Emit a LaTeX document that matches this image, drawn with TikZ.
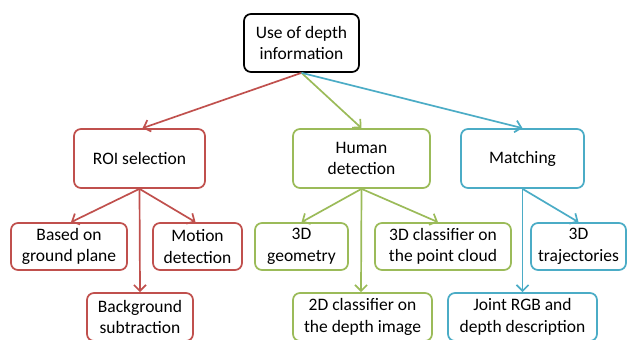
\documentclass[tikz,border=0pt]{standalone}
\usepackage{fontspec}
\setmainfont{Carlito}
\usetikzlibrary{arrows.meta}
\definecolor{cred}{HTML}{C0504D}
\definecolor{cgreen}{HTML}{9BBB59}
\definecolor{cblue}{HTML}{4BACC6}
\tikzset{
  box/.style={draw, line width=1.7pt, rounded corners=7pt, fill=white, inner sep=0pt, align=center,
    font=\fontsize{17.5}{21.5}\selectfont},
  arr/.style={line width=1.7pt, -{Straight Barb[length=6pt,width=12pt,line width=1.7pt]}},
}
\begin{document}
\begin{tikzpicture}[x=1pt,y=-1pt]
\useasboundingbox (0,0) rectangle (627,340);
\node[box, draw=black, minimum width=115pt, minimum height=58pt] (top) at (301.5,43) {Use of depth\\information};
\node[box, draw=cred, minimum width=131pt, minimum height=59pt] (roi) at (139.5,158.5) {ROI selection};
\node[box, draw=cgreen, minimum width=137pt, minimum height=59pt] (hum) at (361.5,158.5) {Human\\detection};
\node[box, draw=cblue, minimum width=123pt, minimum height=59pt] (mat) at (522.5,158.5) {Matching};
\node[box, draw=cred, minimum width=116pt, minimum height=47pt] (gp) at (69,246.5) {Based on\\ground plane};
\node[box, draw=cred, minimum width=89pt, minimum height=47pt] (mot) at (197.5,246.5) {Motion\\detection};
\node[box, draw=cgreen, minimum width=93pt, minimum height=47pt] (geo) at (301.5,246.5) {3D\\geometry};
\node[box, draw=cgreen, minimum width=136pt, minimum height=47pt] (pc) at (443,246.5) {3D classifier on\\the point cloud};
\node[box, draw=cblue, minimum width=95pt, minimum height=47pt] (traj) at (578.5,246.5) {3D\\trajectories};
\node[box, draw=cred, minimum width=106pt, minimum height=48pt] (bg) at (140,317) {Background\\subtraction};
\node[box, draw=cgreen, minimum width=139pt, minimum height=48pt] (cls) at (362.5,317) {2D classifier on\\the depth image};
\node[box, draw=cblue, minimum width=149pt, minimum height=48pt] (joint) at (522.5,317) {Joint RGB and\\depth description};
\draw[arr, cred] (top.south) -- ([xshift=3pt]roi.north);
\draw[arr, cgreen] (top.south) -- (hum.north);
\draw[arr, cblue] (top.south) -- (mat.north);
\draw[arr, cred] (roi.south) -- ([xshift=2pt]gp.north);
\draw[arr, cred] (roi.south) -- ([xshift=-2pt]mot.north);
\draw[arr, cred] (roi.south) -- (bg.north);
\draw[arr, cgreen] (hum.south) -- (geo.north);
\draw[arr, cgreen] (hum.south) -- ([xshift=-5pt]pc.north);
\draw[arr, cgreen] (hum.south) -- ([xshift=-1.5pt]cls.north);
\draw[arr, cblue] (mat.south) -- (traj.north);
\draw[arr, cblue] (mat.south) -- (joint.north);
\end{tikzpicture}
\end{document}
